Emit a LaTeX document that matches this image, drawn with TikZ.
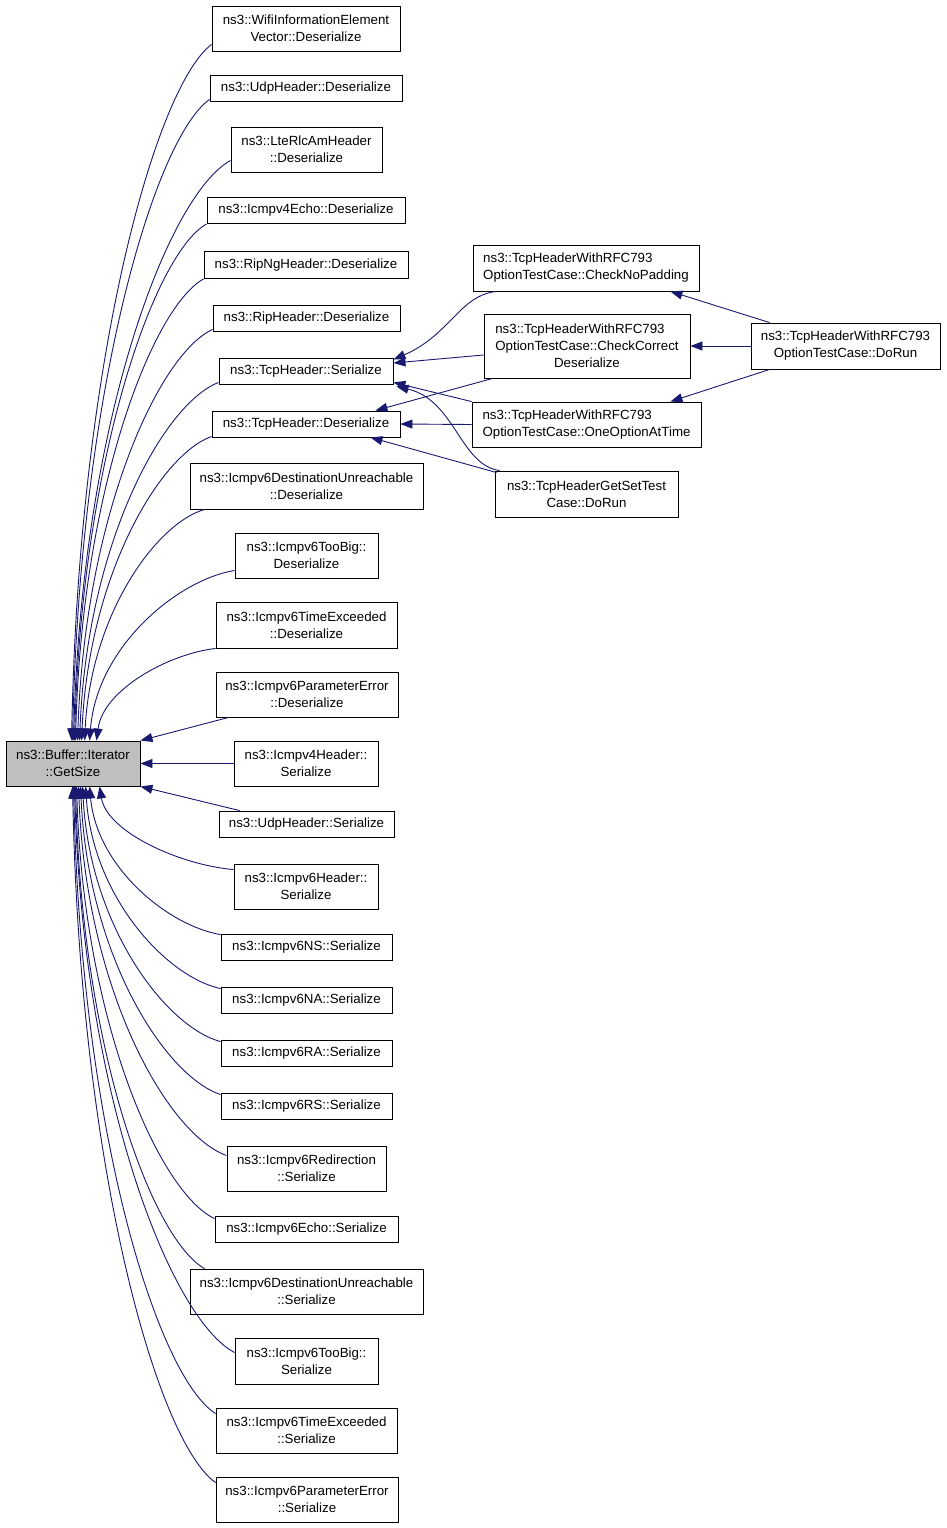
\documentclass[tikz,border=0pt]{standalone}
\usepackage{fontspec}
\setmainfont{Liberation Sans}
\usetikzlibrary{arrows.meta}
\definecolor{navy}{RGB}{25,25,112}
\definecolor{boxgray}{RGB}{191,191,191}
\newcommand{\fs}{\fontsize{13.3}{17}\selectfont}
\tikzset{
  box/.style={draw=black, line width=0.9pt, fill=white, inner sep=0pt, align=center, font=\fs},
  edge/.style={draw=navy, line width=0.9pt, -{Triangle[length=12pt,width=9pt]}}
}
\begin{document}
\begin{tikzpicture}[x=1pt,y=-1pt]
\fill[white] (0,0) rectangle (947,1528);
\useasboundingbox (0,0) rectangle (947,1528);
% main node
\node[box, fill=boxgray, minimum width=134pt, minimum height=45pt] (gs) at (73,763.5) {ns3::Buffer::Iterator\\::GetSize};
% left column
\node[box, minimum width=188pt, minimum height=45pt] (n1) at (306,28.5) {ns3::WifiInformationElement\\Vector::Deserialize};
\node[box, minimum width=192pt, minimum height=26pt] (n2) at (306,88) {ns3::UdpHeader::Deserialize};
\node[box, minimum width=151pt, minimum height=45pt] (n3) at (306.5,149.5) {ns3::LteRlcAmHeader\\::Deserialize};
\node[box, minimum width=198pt, minimum height=26pt] (n4) at (306,210.5) {ns3::Icmpv4Echo::Deserialize};
\node[box, minimum width=204pt, minimum height=27pt] (n5) at (306,265) {ns3::RipNgHeader::Deserialize};
\node[box, minimum width=187pt, minimum height=26pt] (n6) at (306.5,318) {ns3::RipHeader::Deserialize};
\node[box, minimum width=174pt, minimum height=26pt] (n7) at (306,371) {ns3::TcpHeader::Serialize};
\node[box, minimum width=188pt, minimum height=26pt] (n8) at (306,424) {ns3::TcpHeader::Deserialize};
\node[box, minimum width=233pt, minimum height=46pt] (n9) at (306.5,486) {ns3::Icmpv6DestinationUnreachable\\::Deserialize};
\node[box, minimum width=143pt, minimum height=45pt] (n10) at (306.5,555.5) {ns3::Icmpv6TooBig::\\Deserialize};
\node[box, minimum width=181pt, minimum height=46pt] (n11) at (306.5,625) {ns3::Icmpv6TimeExceeded\\::Deserialize};
\node[box, minimum width=182pt, minimum height=45pt] (n12) at (307,694.5) {ns3::Icmpv6ParameterError\\::Deserialize};
\node[box, minimum width=144pt, minimum height=45pt] (n13) at (306,763.5) {ns3::Icmpv4Header::\\Serialize};
\node[box, minimum width=175pt, minimum height=26pt] (n14) at (306.5,824) {ns3::UdpHeader::Serialize};
\node[box, minimum width=144pt, minimum height=45pt] (n15) at (306,886.5) {ns3::Icmpv6Header::\\Serialize};
\node[box, minimum width=171pt, minimum height=26pt] (n16) at (306.5,947) {ns3::Icmpv6NS::Serialize};
\node[box, minimum width=171pt, minimum height=26pt] (n17) at (306.5,1000) {ns3::Icmpv6NA::Serialize};
\node[box, minimum width=171pt, minimum height=26pt] (n18) at (306.5,1053) {ns3::Icmpv6RA::Serialize};
\node[box, minimum width=171pt, minimum height=26pt] (n19) at (306.5,1106) {ns3::Icmpv6RS::Serialize};
\node[box, minimum width=159pt, minimum height=45pt] (n20) at (306.5,1168.5) {ns3::Icmpv6Redirection\\::Serialize};
\node[box, minimum width=183pt, minimum height=26pt] (n21) at (306.5,1229) {ns3::Icmpv6Echo::Serialize};
\node[box, minimum width=233pt, minimum height=45pt] (n22) at (306.5,1291.5) {ns3::Icmpv6DestinationUnreachable\\::Serialize};
\node[box, minimum width=143pt, minimum height=46pt] (n23) at (306.5,1361) {ns3::Icmpv6TooBig::\\Serialize};
\node[box, minimum width=181pt, minimum height=45pt] (n24) at (306.5,1430.5) {ns3::Icmpv6TimeExceeded\\::Serialize};
\node[box, minimum width=182pt, minimum height=45pt] (n25) at (307,1499.5) {ns3::Icmpv6ParameterError\\::Serialize};
% right cluster
\node[box, minimum width=226pt, minimum height=46pt, align=left] (r1) at (586,268) {ns3::TcpHeaderWithRFC793\\OptionTestCase::CheckNoPadding};
\node[box, minimum width=206pt, minimum height=64pt] (r2) at (587,346) {\makebox[0pt][l]{ns3::TcpHeaderWithRFC793}\hphantom{OptionTestCase::CheckCorrect}\\OptionTestCase::CheckCorrect\\Deserialize};
\node[box, minimum width=229pt, minimum height=45pt, align=left] (r3) at (586.5,424.5) {ns3::TcpHeaderWithRFC793\\OptionTestCase::OneOptionAtTime};
\node[box, minimum width=183pt, minimum height=46pt] (r4) at (586.5,494) {ns3::TcpHeaderGetSetTest\\Case::DoRun};
\node[box, minimum width=189pt, minimum height=46pt] (r5) at (845.5,346) {ns3::TcpHeaderWithRFC793\\OptionTestCase::DoRun};
% edges to GetSize, upper
\draw[edge] ([yshift=7pt]n1.south west) .. controls (156,86) and (79,358) .. ([xshift=66pt]gs.north west);
\draw[edge] ([yshift=2pt]n2.south west) .. controls (155,138) and (80,388) .. ([xshift=67pt]gs.north west);
\draw[edge] ([yshift=12pt]n3.south west) .. controls (168,195) and (82,421) .. ([xshift=68pt]gs.north west);
\draw[edge] (n4.south west) .. controls (155,253) and (82,456) .. ([xshift=69pt]gs.north west);
\draw[edge] (n5.south west) .. controls (153,307) and (82,487) .. ([xshift=70pt]gs.north west);
\draw[edge] ([yshift=2pt]n6.south west) .. controls (159,354) and (85,514) .. ([xshift=72pt]gs.north west);
\draw[edge] ([yshift=2pt]n7.south west) .. controls (163,404) and (87,544) .. ([xshift=74pt]gs.north west);
\draw[edge] ([yshift=1pt]n8.south west) .. controls (160,455) and (89,574) .. ([xshift=76pt]gs.north west);
\draw[edge] ([xshift=15pt]n9.south west) .. controls (157,523) and (91,613) .. ([xshift=79pt]gs.north west);
\draw[edge] ([yshift=8pt]n10.south west) .. controls (177,580) and (97,647) .. ([xshift=84pt]gs.north west);
\draw[edge] (n11.south west) .. controls (168,654) and (103,690) .. ([xshift=91pt]gs.north west);
\draw[edge] ([xshift=13pt]n12.south west) -- (gs.north east);
\draw[edge] (n13.west) -- (gs.east);
\draw[edge] ([xshift=21pt]n14.north west) -- (gs.south east);
% edges to GetSize, lower
\draw[edge] ([yshift=-6pt]n15.north west) .. controls (180,865) and (107,832) .. ([xshift=94pt]gs.south west);
\draw[edge] ([yshift=-1pt]n16.north west) .. controls (169,926) and (97,868) .. ([xshift=84pt]gs.south west);
\draw[edge] ([yshift=-2pt]n17.north west) .. controls (167,977) and (93,898) .. ([xshift=80pt]gs.south west);
\draw[edge] ([yshift=-2pt]n18.north west) .. controls (166,1027) and (90,927) .. ([xshift=77pt]gs.south west);
\draw[edge] ([yshift=-2pt]n19.north west) .. controls (165,1076) and (88,956) .. ([xshift=75pt]gs.south west);
\draw[edge] ([yshift=-10pt]n20.north west) .. controls (167,1134) and (86,990) .. ([xshift=73pt]gs.south west);
\draw[edge] ([yshift=-3pt]n21.north west) .. controls (160,1193) and (84,1024) .. ([xshift=71pt]gs.south west);
\draw[edge] ([xshift=15pt]n22.north west) .. controls (153,1240) and (82,1052) .. ([xshift=70pt]gs.south west);
\draw[edge] ([yshift=-15pt]n23.north west) .. controls (171,1319) and (83,1098) .. ([xshift=69pt]gs.south west);
\draw[edge] ([yshift=-6pt]n24.north west) .. controls (157,1376) and (81,1131) .. ([xshift=68pt]gs.south west);
\draw[edge] ([yshift=-6pt]n25.north west) .. controls (157,1441) and (80,1169) .. ([xshift=67pt]gs.south west);
% right cluster edges
\draw[edge] ([xshift=24pt]r1.south west) .. controls (460,295) and (450,335) .. ([yshift=-2pt]n7.north east);
\draw[edge] ([yshift=-9pt]r2.west) -- ([yshift=8pt]n7.east);
\draw[edge] (r3.north west) -- ([yshift=2pt]n7.south east);
\draw[edge] ([xshift=5pt]r4.north west) .. controls (460,465) and (455,400) .. ([xshift=3pt,yshift=-2pt]n7.south east);
\draw[edge] ([xshift=9pt]r2.south west) -- ([xshift=-25pt]n8.north east);
\draw[edge] (r3.west) -- (n8.east);
\draw[edge] ([xshift=2pt,yshift=-2pt]r4.north west) -- ([xshift=-30pt]n8.south east);
\draw[edge] ([xshift=19pt]r5.north west) -- ([xshift=-29pt]r1.south east);
\draw[edge] (r5.west) -- (r2.east);
\draw[edge] ([xshift=19pt]r5.south west) -- ([xshift=-31pt]r3.north east);
\end{tikzpicture}
\end{document}
